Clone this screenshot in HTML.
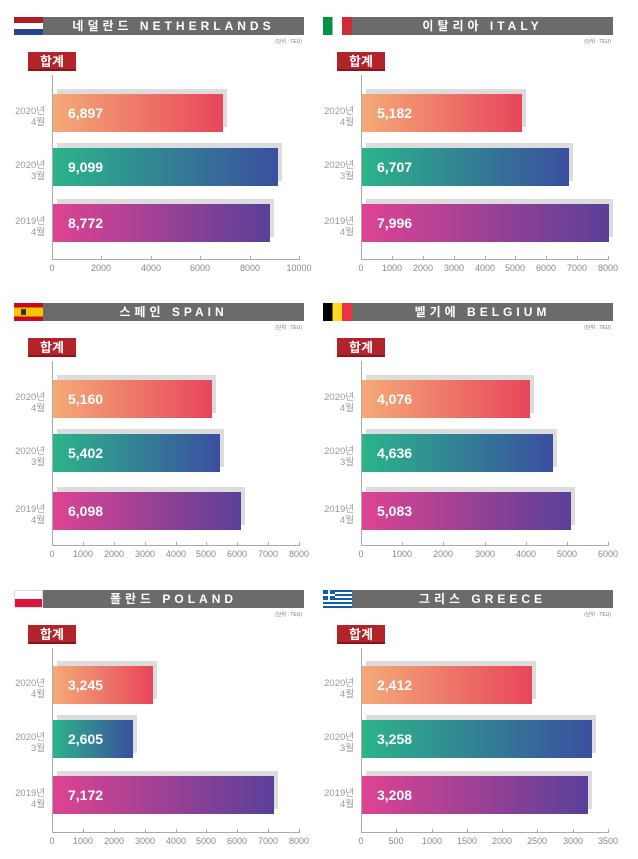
<!DOCTYPE html>
<html><head><meta charset="utf-8"><style>
body{margin:0;width:638px;height:852px;background:#fff;position:relative;overflow:hidden;font-family:"Liberation Sans","Noto Sans CJK KR",sans-serif}
.p{position:absolute;width:309px;height:286px}
.p div{position:absolute}
.fl{left:14px;top:17px;width:29px;height:18px;overflow:hidden}
.hd{left:43px;top:17px;width:261px;height:18px;background:#6b6b6b;color:#fff;font-weight:bold;font-size:12px;line-height:18px;text-align:center;letter-spacing:4px}
.un{left:240px;top:38px;width:62px;text-align:right;font-size:5px;color:#777}
.tg{left:28px;top:52px;width:48px;height:19px;background:#b3232a;color:#fff;font-weight:bold;font-size:13px;line-height:19px;text-align:center;border-bottom:2px solid #8a1519;box-sizing:border-box}
.ax{left:52px;top:75px;width:1px;height:185px;background:#aaa}
.hx{left:52px;top:259px;width:248px;height:1px;background:#aaa}
.tk{top:256px;width:1px;height:3px;background:#aaa}
.tl{top:263px;width:40px;margin-left:-20px;text-align:center;font-size:9px;color:#888}
.sh{left:57px;height:38px;background:#dcdcdc}
.b{left:53px;height:38px;color:#fff;font-weight:bold;font-size:14px;line-height:38px;text-indent:15px;box-sizing:border-box}
.g1{background:linear-gradient(90deg,#f4aa77,#e8465b)}
.g2{background:linear-gradient(90deg,#2bb48a,#3a4f9f)}
.g3{background:linear-gradient(90deg,#de4392,#5a3f98)}
.yl{left:0;width:45px;text-align:right;font-size:9.5px;line-height:11px;color:#999;margin-top:4px}
</style></head><body>

<!-- Netherlands -->
<div class="p" style="left:0;top:0">
<div class="fl" style="background:linear-gradient(#ae1c28 0 33%,#fff 33% 66%,#21468b 66%)"></div>
<div class="hd">네덜란드 NETHERLANDS</div><div class="un">(단위 : TEU)</div><div class="tg">합계</div>
<div class="ax"></div><div class="hx"></div>
<div class="tk" style="left:52px"></div><div class="tk" style="left:101px"></div><div class="tk" style="left:151px"></div><div class="tk" style="left:200px"></div><div class="tk" style="left:250px"></div><div class="tk" style="left:299px"></div>
<div class="tl" style="left:52px">0</div><div class="tl" style="left:101px">2000</div><div class="tl" style="left:151px">4000</div><div class="tl" style="left:200px">6000</div><div class="tl" style="left:250px">8000</div><div class="tl" style="left:299px">10000</div>
<div class="sh" style="top:89px;width:170px"></div><div class="b g1" style="top:94px;width:170px">6,897</div>
<div class="sh" style="top:143px;width:225px"></div><div class="b g2" style="top:148px;width:225px">9,099</div>
<div class="sh" style="top:199px;width:217px"></div><div class="b g3" style="top:204px;width:217px">8,772</div>
<div class="yl" style="top:102px">2020년<br>4월</div><div class="yl" style="top:156px">2020년<br>3월</div><div class="yl" style="top:212px">2019년<br>4월</div>
</div>

<!-- Italy -->
<div class="p" style="left:309px;top:0">
<div class="fl" style="background:linear-gradient(90deg,#009246 0 33%,#fff 33% 66%,#ce2b37 66%)"></div>
<div class="hd">이탈리아 ITALY</div><div class="un">(단위 : TEU)</div><div class="tg">합계</div>
<div class="ax"></div><div class="hx"></div>
<div class="tk" style="left:52px"></div><div class="tk" style="left:83px"></div><div class="tk" style="left:114px"></div><div class="tk" style="left:145px"></div><div class="tk" style="left:176px"></div><div class="tk" style="left:206px"></div><div class="tk" style="left:237px"></div><div class="tk" style="left:268px"></div><div class="tk" style="left:299px"></div>
<div class="tl" style="left:52px">0</div><div class="tl" style="left:83px">1000</div><div class="tl" style="left:114px">2000</div><div class="tl" style="left:145px">3000</div><div class="tl" style="left:176px">4000</div><div class="tl" style="left:206px">5000</div><div class="tl" style="left:237px">6000</div><div class="tl" style="left:268px">7000</div><div class="tl" style="left:299px">8000</div>
<div class="sh" style="top:89px;width:160px"></div><div class="b g1" style="top:94px;width:160px">5,182</div>
<div class="sh" style="top:143px;width:207px"></div><div class="b g2" style="top:148px;width:207px">6,707</div>
<div class="sh" style="top:199px;width:247px"></div><div class="b g3" style="top:204px;width:247px">7,996</div>
<div class="yl" style="top:102px">2020년<br>4월</div><div class="yl" style="top:156px">2020년<br>3월</div><div class="yl" style="top:212px">2019년<br>4월</div>
</div>

<!-- Spain -->
<div class="p" style="left:0;top:286px">
<div class="fl" style="background:linear-gradient(#c60b1e 0 25%,#ffc400 25% 75%,#c60b1e 75%)"><div style="left:7px;top:6px;width:5px;height:6px;background:#333"></div></div>
<div class="hd">스페인 SPAIN</div><div class="un">(단위 : TEU)</div><div class="tg">합계</div>
<div class="ax"></div><div class="hx"></div>
<div class="tk" style="left:52px"></div><div class="tk" style="left:83px"></div><div class="tk" style="left:114px"></div><div class="tk" style="left:145px"></div><div class="tk" style="left:176px"></div><div class="tk" style="left:206px"></div><div class="tk" style="left:237px"></div><div class="tk" style="left:268px"></div><div class="tk" style="left:299px"></div>
<div class="tl" style="left:52px">0</div><div class="tl" style="left:83px">1000</div><div class="tl" style="left:114px">2000</div><div class="tl" style="left:145px">3000</div><div class="tl" style="left:176px">4000</div><div class="tl" style="left:206px">5000</div><div class="tl" style="left:237px">6000</div><div class="tl" style="left:268px">7000</div><div class="tl" style="left:299px">8000</div>
<div class="sh" style="top:89px;width:159px"></div><div class="b g1" style="top:94px;width:159px">5,160</div>
<div class="sh" style="top:143px;width:167px"></div><div class="b g2" style="top:148px;width:167px">5,402</div>
<div class="sh" style="top:201px;width:188px"></div><div class="b g3" style="top:206px;width:188px">6,098</div>
<div class="yl" style="top:102px">2020년<br>4월</div><div class="yl" style="top:156px">2020년<br>3월</div><div class="yl" style="top:214px">2019년<br>4월</div>
</div>

<!-- Belgium -->
<div class="p" style="left:309px;top:286px">
<div class="fl" style="background:linear-gradient(90deg,#000 0 33%,#fdda24 33% 66%,#ef3340 66%)"></div>
<div class="hd">벨기에 BELGIUM</div><div class="un">(단위 : TEU)</div><div class="tg">합계</div>
<div class="ax"></div><div class="hx"></div>
<div class="tk" style="left:52px"></div><div class="tk" style="left:93px"></div><div class="tk" style="left:134px"></div><div class="tk" style="left:176px"></div><div class="tk" style="left:217px"></div><div class="tk" style="left:258px"></div><div class="tk" style="left:299px"></div>
<div class="tl" style="left:52px">0</div><div class="tl" style="left:93px">1000</div><div class="tl" style="left:134px">2000</div><div class="tl" style="left:176px">3000</div><div class="tl" style="left:217px">4000</div><div class="tl" style="left:258px">5000</div><div class="tl" style="left:299px">6000</div>
<div class="sh" style="top:89px;width:168px"></div><div class="b g1" style="top:94px;width:168px">4,076</div>
<div class="sh" style="top:143px;width:191px"></div><div class="b g2" style="top:148px;width:191px">4,636</div>
<div class="sh" style="top:201px;width:209px"></div><div class="b g3" style="top:206px;width:209px">5,083</div>
<div class="yl" style="top:102px">2020년<br>4월</div><div class="yl" style="top:156px">2020년<br>3월</div><div class="yl" style="top:214px">2019년<br>4월</div>
</div>

<!-- Poland -->
<div class="p" style="left:0;top:573px">
<div class="fl" style="background:linear-gradient(#fff 0 50%,#dc143c 50%);box-shadow:inset 0 0 0 1px #ddd"></div>
<div class="hd">폴란드 POLAND</div><div class="un">(단위 : TEU)</div><div class="tg">합계</div>
<div class="ax"></div><div class="hx"></div>
<div class="tk" style="left:52px"></div><div class="tk" style="left:83px"></div><div class="tk" style="left:114px"></div><div class="tk" style="left:145px"></div><div class="tk" style="left:176px"></div><div class="tk" style="left:206px"></div><div class="tk" style="left:237px"></div><div class="tk" style="left:268px"></div><div class="tk" style="left:299px"></div>
<div class="tl" style="left:52px">0</div><div class="tl" style="left:83px">1000</div><div class="tl" style="left:114px">2000</div><div class="tl" style="left:145px">3000</div><div class="tl" style="left:176px">4000</div><div class="tl" style="left:206px">5000</div><div class="tl" style="left:237px">6000</div><div class="tl" style="left:268px">7000</div><div class="tl" style="left:299px">8000</div>
<div class="sh" style="top:88px;width:100px"></div><div class="b g1" style="top:93px;width:100px">3,245</div>
<div class="sh" style="top:142px;width:80px"></div><div class="b g2" style="top:147px;width:80px">2,605</div>
<div class="sh" style="top:198px;width:221px"></div><div class="b g3" style="top:203px;width:221px">7,172</div>
<div class="yl" style="top:101px">2020년<br>4월</div><div class="yl" style="top:155px">2020년<br>3월</div><div class="yl" style="top:211px">2019년<br>4월</div>
</div>

<!-- Greece -->
<div class="p" style="left:309px;top:573px">
<div class="fl" style="background:repeating-linear-gradient(#0d5eaf 0 2px,#fff 2px 4px)"><div style="left:0;top:0;width:12px;height:10px;background:#0d5eaf"></div><div style="left:5px;top:0;width:2px;height:10px;background:#fff"></div><div style="left:0;top:4px;width:12px;height:2px;background:#fff"></div></div>
<div class="hd">그리스 GREECE</div><div class="un">(단위 : TEU)</div><div class="tg">합계</div>
<div class="ax"></div><div class="hx"></div>
<div class="tk" style="left:52px"></div><div class="tk" style="left:87px"></div><div class="tk" style="left:123px"></div><div class="tk" style="left:158px"></div><div class="tk" style="left:193px"></div><div class="tk" style="left:228px"></div><div class="tk" style="left:264px"></div><div class="tk" style="left:299px"></div>
<div class="tl" style="left:52px">0</div><div class="tl" style="left:87px">500</div><div class="tl" style="left:123px">1000</div><div class="tl" style="left:158px">1500</div><div class="tl" style="left:193px">2000</div><div class="tl" style="left:228px">2500</div><div class="tl" style="left:264px">3000</div><div class="tl" style="left:299px">3500</div>
<div class="sh" style="top:88px;width:170px"></div><div class="b g1" style="top:93px;width:170px">2,412</div>
<div class="sh" style="top:142px;width:230px"></div><div class="b g2" style="top:147px;width:230px">3,258</div>
<div class="sh" style="top:198px;width:226px"></div><div class="b g3" style="top:203px;width:226px">3,208</div>
<div class="yl" style="top:101px">2020년<br>4월</div><div class="yl" style="top:155px">2020년<br>3월</div><div class="yl" style="top:211px">2019년<br>4월</div>
</div>

</body></html>
